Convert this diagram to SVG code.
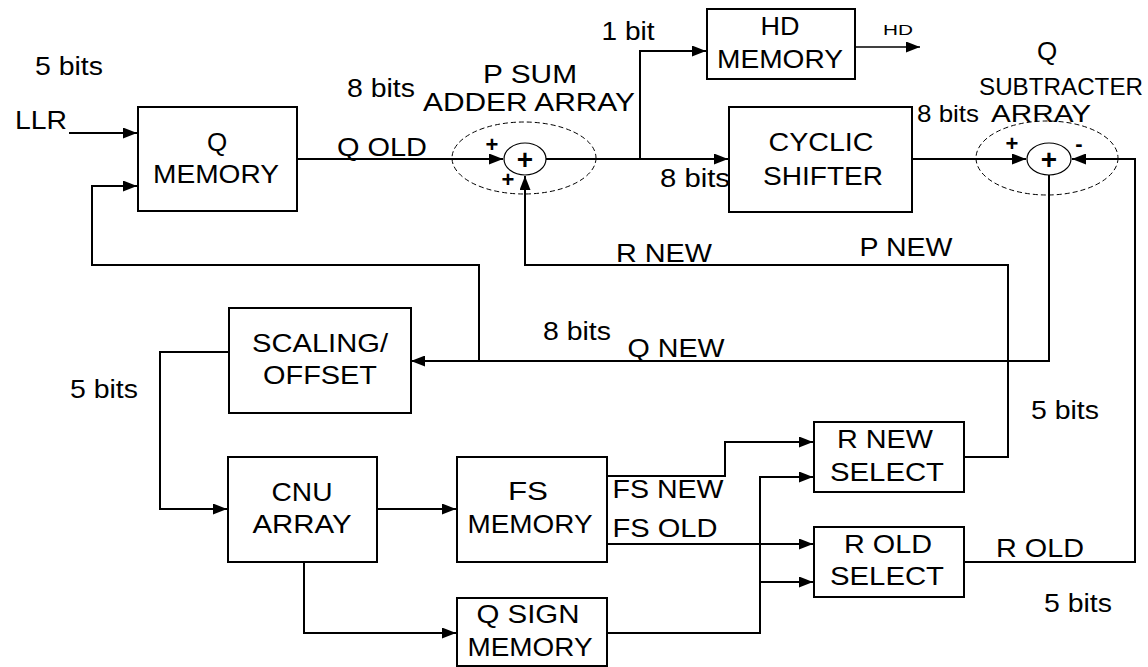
<svg xmlns="http://www.w3.org/2000/svg" width="1148" height="667" viewBox="0 0 1148 667">
<defs>
<marker id="ah" markerUnits="userSpaceOnUse" markerWidth="15" markerHeight="11" refX="14" refY="5.5" orient="auto">
<path d="M0,0 L14,5.5 L0,11 z" fill="#000"/>
</marker>
<style>
.box{fill:#fff;stroke:#000;stroke-width:2}
.c{fill:none;stroke:#000;stroke-width:2}
.t{font-family:"Liberation Sans",Arial,sans-serif;font-size:26px;fill:#000;text-anchor:middle}
.t2{font-family:"Liberation Sans",Arial,sans-serif;font-size:24px;fill:#000;text-anchor:middle}
.sm{font-family:"Liberation Sans",Arial,sans-serif;font-size:15px;fill:#000;text-anchor:middle}
.sign{font-family:"Liberation Sans",Arial,sans-serif;font-size:22px;font-weight:bold;fill:#000;text-anchor:middle}
.op{font-family:"Liberation Sans",Arial,sans-serif;font-size:28px;font-weight:bold;fill:#000;text-anchor:middle}
.ring{fill:#fff;stroke:#000;stroke-width:1.2}
.dash{fill:none;stroke:#000;stroke-width:1;stroke-dasharray:5,3}
</style>
</defs>
<rect width="1148" height="667" fill="#fff"/>

<g id="connectors">
<path class="c" d="M69,133 H137" marker-end="url(#ah)"/>
<path class="c" d="M479,361 V265 H92 V186 H137" marker-end="url(#ah)"/>
<path class="c" d="M297,159 H503" marker-end="url(#ah)"/>
<path class="c" d="M546,159 H728" marker-end="url(#ah)"/>
<path class="c" d="M640,159 V51 H706" marker-end="url(#ah)"/>
<path class="c" style="stroke-width:1.5" d="M855,47 H920" marker-end="url(#ah)"/>
<path class="c" d="M912,159 H1026" marker-end="url(#ah)"/>
<path class="c" d="M1049,175 V361 H411" marker-end="url(#ah)"/>
<path class="c" d="M964,562 H1135 V159 H1072" marker-end="url(#ah)"/>
<path class="c" d="M964,457 H1008 V265 H525 V176" marker-end="url(#ah)"/>
<path class="c" d="M229,352 H160 V509 H227" marker-end="url(#ah)"/>
<path class="c" d="M377,509 H456" marker-end="url(#ah)"/>
<path class="c" d="M304,562 V633 H456" marker-end="url(#ah)"/>
<path class="c" d="M607,476 H725 V442 H813" marker-end="url(#ah)"/>
<path class="c" d="M607,544 H813" marker-end="url(#ah)"/>
<path class="c" d="M607,633 H760 V477 H813" marker-end="url(#ah)"/>
<path class="c" d="M760,582 H813" marker-end="url(#ah)"/>
</g>

<g id="labels">
<text class="t" x="69" y="75" textLength="68" lengthAdjust="spacingAndGlyphs">5 bits</text>
<text class="t" x="41" y="129" textLength="52" lengthAdjust="spacingAndGlyphs">LLR</text>
<text class="t" x="382" y="156" textLength="90" lengthAdjust="spacingAndGlyphs">Q OLD</text>
<text class="t" x="381" y="97" textLength="68" lengthAdjust="spacingAndGlyphs">8 bits</text>
<text class="t" x="628" y="40" textLength="53" lengthAdjust="spacingAndGlyphs">1 bit</text>
<text class="sm" x="898" y="35" textLength="30" lengthAdjust="spacingAndGlyphs">HD</text>
<text class="t" x="695" y="187" textLength="70" lengthAdjust="spacingAndGlyphs">8 bits</text>
<text class="t2" x="948" y="122" textLength="62" lengthAdjust="spacingAndGlyphs">8 bits</text>
<text class="t" x="664" y="262" textLength="96" lengthAdjust="spacingAndGlyphs">R NEW</text>
<text class="t" x="906" y="256" textLength="93" lengthAdjust="spacingAndGlyphs">P NEW</text>
<text class="t" x="577" y="340" textLength="68" lengthAdjust="spacingAndGlyphs">8 bits</text>
<text class="t" x="676" y="357" textLength="97" lengthAdjust="spacingAndGlyphs">Q NEW</text>
<text class="t" x="104" y="398" textLength="68" lengthAdjust="spacingAndGlyphs">5 bits</text>
<text class="t" x="668" y="498" textLength="111" lengthAdjust="spacingAndGlyphs">FS NEW</text>
<text class="t" x="665" y="537" textLength="105" lengthAdjust="spacingAndGlyphs">FS OLD</text>
<text class="t" x="1065" y="419" textLength="68" lengthAdjust="spacingAndGlyphs">5 bits</text>
<text class="t" x="1040" y="557" textLength="88" lengthAdjust="spacingAndGlyphs">R OLD</text>
<text class="t" x="1078" y="612" textLength="68" lengthAdjust="spacingAndGlyphs">5 bits</text>
</g>

<g id="q-memory">
<rect class="box" x="138" y="107" width="159" height="104"/>
<text class="t" x="217" y="151">Q</text>
<text class="t" x="216" y="183" textLength="126" lengthAdjust="spacingAndGlyphs">MEMORY</text>
</g>

<g id="p-sum-adder">
<ellipse class="dash" cx="524" cy="158" rx="72" ry="36"/>
<ellipse class="ring" cx="525" cy="159" rx="21" ry="16"/>
<text class="op" x="525" y="169">+</text>
<text class="sign" x="492" y="152">+</text>
<text class="sign" x="508" y="187">+</text>
<text class="t" x="530" y="83" textLength="94" lengthAdjust="spacingAndGlyphs">P SUM</text>
<text class="t" x="529" y="111" textLength="212" lengthAdjust="spacingAndGlyphs">ADDER ARRAY</text>
</g>

<g id="hd-memory">
<rect class="box" x="707" y="9" width="148" height="70"/>
<text class="t" x="780" y="35" textLength="39" lengthAdjust="spacingAndGlyphs">HD</text>
<text class="t" x="780" y="68" textLength="126" lengthAdjust="spacingAndGlyphs">MEMORY</text>
</g>

<g id="cyclic-shifter">
<rect class="box" x="729" y="107" width="183" height="105"/>
<text class="t" x="821" y="151" textLength="105" lengthAdjust="spacingAndGlyphs">CYCLIC</text>
<text class="t" x="823" y="185" textLength="120" lengthAdjust="spacingAndGlyphs">SHIFTER</text>
</g>

<g id="q-subtracter">
<ellipse class="dash" cx="1047" cy="158" rx="71" ry="37"/>
<ellipse class="ring" cx="1049" cy="159" rx="22" ry="16"/>
<text class="op" x="1049" y="169">+</text>
<text class="sign" x="1012" y="151">+</text>
<text class="sign" x="1079" y="151">-</text>
<text class="t" x="1047" y="60">Q</text>
<text class="t2" x="1061" y="95" textLength="164" lengthAdjust="spacingAndGlyphs">SUBTRACTER</text>
<text class="t2" x="1041" y="122" textLength="100" lengthAdjust="spacingAndGlyphs">ARRAY</text>
</g>

<g id="scaling-offset">
<rect class="box" x="229" y="308" width="182" height="105"/>
<text class="t" x="320" y="352" textLength="136" lengthAdjust="spacingAndGlyphs">SCALING/</text>
<text class="t" x="320" y="384" textLength="114" lengthAdjust="spacingAndGlyphs">OFFSET</text>
</g>

<g id="cnu-array">
<rect class="box" x="228" y="457" width="149" height="105"/>
<text class="t" x="302" y="501" textLength="61" lengthAdjust="spacingAndGlyphs">CNU</text>
<text class="t" x="302" y="533" textLength="99" lengthAdjust="spacingAndGlyphs">ARRAY</text>
</g>

<g id="fs-memory">
<rect class="box" x="457" y="457" width="150" height="105"/>
<text class="t" x="528" y="500" textLength="40" lengthAdjust="spacingAndGlyphs">FS</text>
<text class="t" x="530" y="533" textLength="125" lengthAdjust="spacingAndGlyphs">MEMORY</text>
</g>

<g id="q-sign-memory">
<rect class="box" x="457" y="598" width="150" height="68"/>
<text class="t" x="528" y="623" textLength="103" lengthAdjust="spacingAndGlyphs">Q SIGN</text>
<text class="t" x="530" y="656" textLength="125" lengthAdjust="spacingAndGlyphs">MEMORY</text>
</g>

<g id="r-new-select">
<rect class="box" x="814" y="422" width="150" height="70"/>
<text class="t" x="885" y="448" textLength="96" lengthAdjust="spacingAndGlyphs">R NEW</text>
<text class="t" x="887" y="481" textLength="114" lengthAdjust="spacingAndGlyphs">SELECT</text>
</g>

<g id="r-old-select">
<rect class="box" x="814" y="527" width="150" height="70"/>
<text class="t" x="888" y="553" textLength="88" lengthAdjust="spacingAndGlyphs">R OLD</text>
<text class="t" x="887" y="585" textLength="114" lengthAdjust="spacingAndGlyphs">SELECT</text>
</g>
</svg>
